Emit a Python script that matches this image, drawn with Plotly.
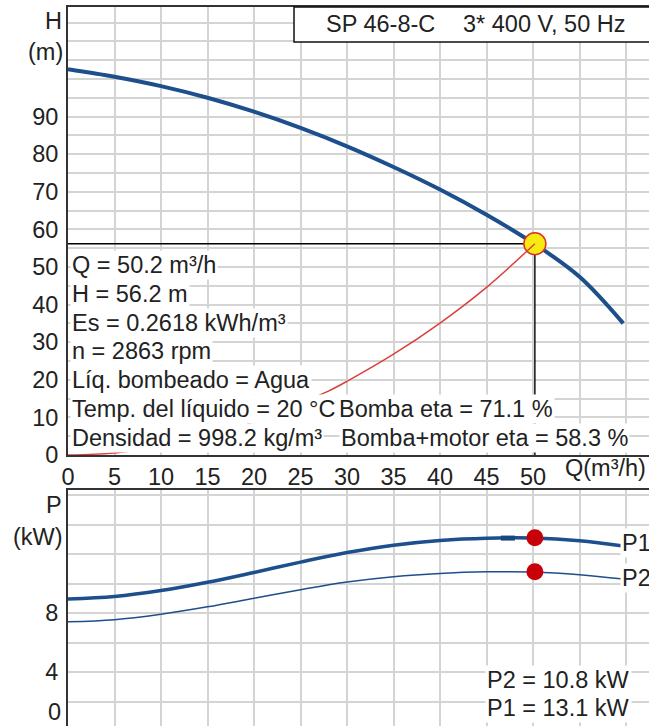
import plotly.graph_objects as go

# ---------------- data ----------------
q_h = [0, 5, 10, 15, 20, 25, 30, 35, 40, 45, 50, 55, 59.7]
h_curve = [102.6, 100.6, 98.1, 95.0, 91.3, 87.0, 82.1, 76.6, 70.6, 63.9, 56.4, 47.4, 35.0]

q_red = [0, 5, 10, 15, 20, 25, 28, 30, 35, 40, 45, 50.2]
red_curve = [0, 0.55, 2.2, 4.95, 8.8, 13.8, 17.0, 19.6, 26.8, 35.1, 44.6, 56.2]

q_p = [0, 5, 10, 15, 20, 25, 30, 35, 40, 45, 50, 55, 59.7]
p1_curve = [8.95, 9.12, 9.52, 10.08, 10.75, 11.45, 12.1, 12.6, 12.92, 13.07, 13.08, 12.9, 12.55]
p2_curve = [7.41, 7.55, 7.92, 8.42, 9.0, 9.58, 10.1, 10.46, 10.68, 10.79, 10.78, 10.6, 10.3]

q_op = 50.2
h_op = 56.2
p1_op = 13.1
p2_op = 10.8
q_mark = 47.3
p_mark = 13.08

x_ticks = list(range(0, 61, 5))
x_ticktext = [str(v) if v <= 50 else "" for v in x_ticks]
y1_ticks = list(range(0, 116, 5))
y1_ticktext = [str(v) if (v % 10 == 0 and v <= 90) else "" for v in y1_ticks]
y2_ticks = list(range(2, 17, 2))
y2_ticktext = [str(v) if v in (4, 8) else "" for v in y2_ticks]

info_lines = [
    "Q = 50.2 m³/h",
    "H = 56.2 m",
    "Es = 0.2618 kWh/m³",
    "n = 2863 rpm",
    "Líq. bombeado = Agua",
    "Temp. del líquido = 20 °C",
    "Densidad = 998.2 kg/m³",
]
eta_lines = ["Bomba eta = 71.1 %", "Bomba+motor eta = 58.3 %"]
power_lines = ["P2 = 10.8 kW", "P1 = 13.1 kW"]
title_left = "SP 46-8-C"
title_right = "3* 400 V, 50 Hz"

# ---------------- style ----------------
W, H = 649, 726
FONT = "Liberation Sans, Arial, sans-serif"
FS = 23.5
TXT = "#222222"
BLUE = "#1c4f8c"
RED = "#d9413a"
GRID = "#d4d4d4"
AX = "#333333"


def px(x):
    return x / W


def py(y):
    return 1 - y / H


fig = go.Figure()

# top chart
fig.add_trace(go.Scatter(x=q_h, y=h_curve, mode="lines", line=dict(color=BLUE, width=4, shape="spline"),
                         xaxis="x", yaxis="y", hoverinfo="skip"))
fig.add_trace(go.Scatter(x=[0, q_op], y=[h_op, h_op], mode="lines", line=dict(color="#000", width=1.4),
                         xaxis="x", yaxis="y", hoverinfo="skip"))
fig.add_trace(go.Scatter(x=[q_op, q_op], y=[0, h_op], mode="lines", line=dict(color="#000", width=1.4),
                         xaxis="x", yaxis="y", hoverinfo="skip"))
fig.add_trace(go.Scatter(x=[q_op], y=[h_op], mode="markers",
                         marker=dict(size=22, color="#f6ea12", line=dict(color="#d8322a", width=1.5)),
                         xaxis="x", yaxis="y", hoverinfo="skip"))
fig.add_trace(go.Scatter(x=q_red, y=red_curve, mode="lines", line=dict(color=RED, width=1.5, shape="spline"),
                         xaxis="x", yaxis="y", hoverinfo="skip"))

# bottom chart
fig.add_trace(go.Scatter(x=q_p, y=p1_curve, mode="lines", line=dict(color=BLUE, width=3.5, shape="spline"),
                         xaxis="x2", yaxis="y2", hoverinfo="skip"))
fig.add_trace(go.Scatter(x=q_p, y=p2_curve, mode="lines", line=dict(color=BLUE, width=1.5, shape="spline"),
                         xaxis="x2", yaxis="y2", hoverinfo="skip"))
fig.add_trace(go.Scatter(x=[q_mark], y=[p_mark], mode="markers",
                         marker=dict(symbol="line-ew", size=10, line=dict(color="#164780", width=5)),
                         xaxis="x2", yaxis="y2", hoverinfo="skip"))
fig.add_trace(go.Scatter(x=[q_op, q_op], y=[p1_op, p2_op], mode="markers",
                         marker=dict(size=17, color="#c8000a"),
                         xaxis="x2", yaxis="y2", hoverinfo="skip"))

xdom = [px(68), 1.0]
common_x = dict(range=[0, 62.47], tickvals=x_ticks, showgrid=True, gridcolor=GRID, gridwidth=2,
                zeroline=False, ticks="", showline=True, linecolor=AX, linewidth=2, domain=xdom,
                automargin=False,
                tickfont=dict(family=FONT, size=FS, color=TXT), fixedrange=True)

fig.update_layout(
    template="none",
    width=W, height=H,
    margin=dict(l=0, r=0, t=0, b=0, pad=0, autoexpand=False),
    paper_bgcolor="white", plot_bgcolor="white",
    showlegend=False,
    font=dict(family=FONT, size=FS, color=TXT),
    xaxis=dict(common_x, anchor="y", ticktext=x_ticktext, mirror=True, ticklabelstandoff=0),
    yaxis=dict(domain=[py(455), py(7)], range=[0, 119.15], tickvals=y1_ticks, ticktext=y1_ticktext,
               showgrid=True, gridcolor=GRID, gridwidth=2, zeroline=False, ticks="",
               showline=True, linecolor=AX, linewidth=2, anchor="x", automargin=False,
               tickfont=dict(family=FONT, size=FS, color=TXT), ticklabelstandoff=3),
    xaxis2=dict(common_x, anchor="y2", showticklabels=False, side="top"),
    yaxis2=dict(domain=[0, py(490)], range=[0.339, 16.34], tickvals=y2_ticks, ticktext=y2_ticktext,
                showgrid=True, gridcolor=GRID, gridwidth=2, zeroline=False, ticks="",
                showline=True, linecolor=AX, linewidth=2, anchor="x2", automargin=False,
                tickfont=dict(family=FONT, size=FS, color=TXT), ticklabelstandoff=3),
)

# title box
fig.add_shape(type="rect", xref="paper", yref="paper", x0=px(294), x1=px(652), y0=py(42), y1=py(7),
              fillcolor="white", line=dict(color="#111", width=1.5), layer="above")

ann = []


def add_text(text, x, y, xanchor="left", bg=None, size=FS):
    d = dict(text=text, xref="paper", yref="paper", x=px(x), y=py(y), xanchor=xanchor, yanchor="middle",
             showarrow=False, font=dict(family=FONT, size=size, color=TXT), borderpad=1)
    if bg:
        d["bgcolor"] = bg
    ann.append(d)


add_text(title_left, 324, 24)
add_text(title_right, 461, 24)

row0 = 265
step = 28.83
for i, t in enumerate(info_lines):
    add_text(t, 70, row0 + i * step, bg="white")
add_text(eta_lines[0], 337, row0 + 5 * step, bg="white")
add_text(eta_lines[1], 339, row0 + 6 * step, bg="white")

add_text(power_lines[0], 485, 680, bg="white")
add_text(power_lines[1], 485, 708, bg="white")
add_text("P1", 620, 543, bg="white")
add_text("P2", 620, 578, bg="white")

add_text("H", 64, 21, xanchor="right")
add_text("(m)", 65, 52, xanchor="right")
add_text("P", 64, 505, xanchor="right")
add_text("(kW)", 65, 537, xanchor="right")
add_text("0", 63, 712, xanchor="right")
add_text("Q(m³/h)", 563, 468)

fig.update_layout(annotations=ann)

fig.write_html(
    "out.html",
    config={"displayModeBar": False, "staticPlot": True},
    post_script="document.body.style.margin='0';document.body.style.padding='0';"
                "document.body.style.overflow='hidden';",
)
